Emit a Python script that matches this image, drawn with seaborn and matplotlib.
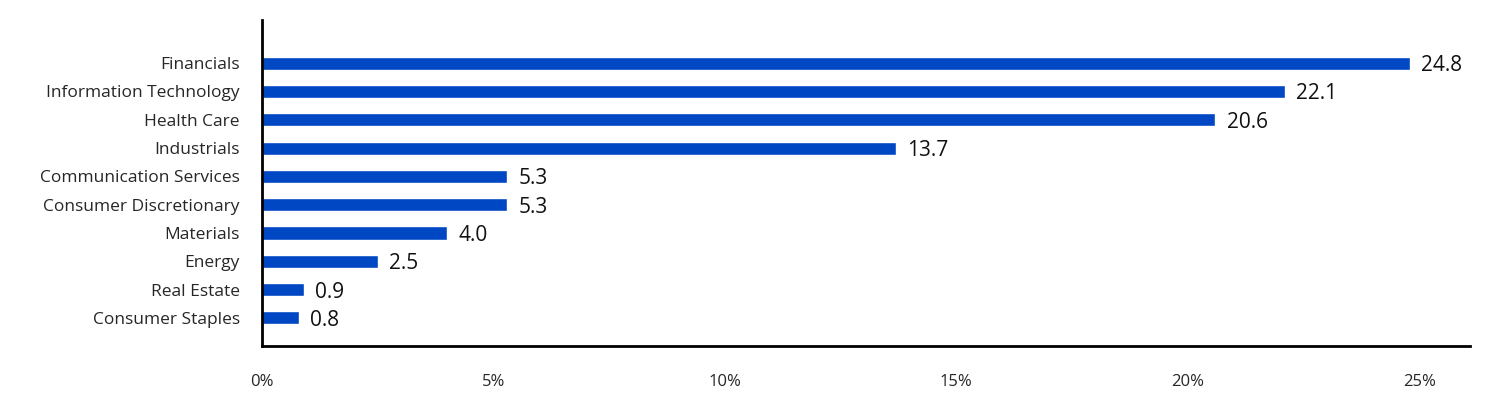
import pandas as pd
import matplotlib
matplotlib.use("Agg")
import matplotlib.pyplot as plt
import seaborn as sns

# Données du graphique
sectors = ['Financials', 'Information Technology', 'Health Care', 'Industrials',
           'Communication Services', 'Consumer Discretionary', 'Materials',
           'Energy', 'Real Estate', 'Consumer Staples']
weights = [24.8, 22.1, 20.6, 13.7, 5.3, 5.3, 4.0, 2.5, 0.9, 0.8]
tick_values = [0, 5, 10, 15, 20, 25]
tick_labels = ['0%', '5%', '10%', '15%', '20%', '25%']

df = pd.DataFrame({'sector': sectors, 'weight': weights})

sns.set_style("white")
plt.rcParams['font.family'] = ['Open Sans', 'DejaVu Sans']

fig = plt.figure(figsize=(15.12, 4.2), dpi=100)
ax = fig.add_axes([262 / 1512, 74 / 420, 1208 / 1512, 326 / 420])

sns.barplot(data=df, x='weight', y='sector', orient='h', color='#0047C4',
            width=0.46, saturation=1, ax=ax)

# Étiquettes de valeur
for i, v in enumerate(weights):
    ax.text(v + 0.24, i, f'{v:.1f}', va='center_baseline', ha='left',
            fontsize=15, color='#111111')

ax.set_xlim(0, 26.1)
ax.set_ylim(9.99, -1.52)
ax.set_xticks(tick_values)
ax.set_xticklabels(tick_labels, fontsize=12)
ax.tick_params(axis='x', length=0, pad=20)
ax.tick_params(axis='y', length=0, pad=16, labelsize=12.5)
ax.set_xlabel('')
ax.set_ylabel('')

for side in ['top', 'right']:
    ax.spines[side].set_visible(False)
for side in ['left', 'bottom']:
    ax.spines[side].set_color('black')
    ax.spines[side].set_linewidth(2)

fig.savefig('out.png', dpi=100)
